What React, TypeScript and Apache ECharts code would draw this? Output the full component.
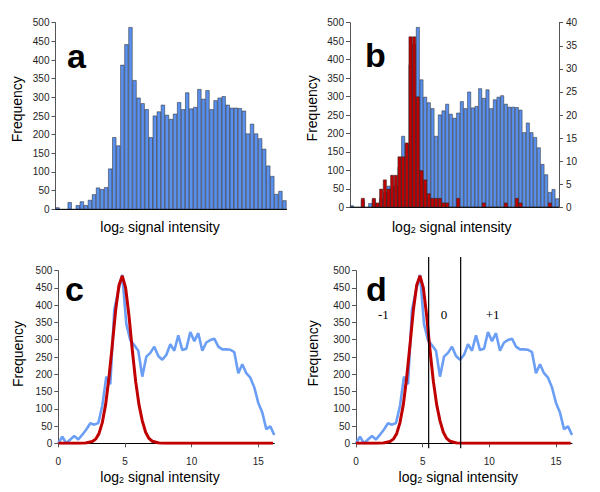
import React, { useEffect, useRef } from 'react';
import * as echarts from 'echarts';

// Histogram counts per 0.3 log2 bin (panels a and b, left axis)
const blueCounts = [5,0,0,19,0,11,21,11,25,40,58,54,59,109,193,171,387,442,488,346,299,284,268,193,251,262,280,253,242,256,287,268,313,270,274,322,296,319,268,292,299,303,280,272,272,271,264,203,229,203,190,162,117,89,41,49,24];
// Red histogram (panel b, right axis)
const redCounts = [0,0,0,2,0,0,2,1,4,6,4,7,7,11,11,14,37,37,24,8,6,3,2,2,2,1,1,0,0,2,0,0,0,0,0,0,1,0,0,0,0,0,1,0,0,2,1,0,0,0,0,0,0,0,1,0,0];
const binWidth = 0.3;
const curveStartBin = 2;
// Fitted red curve (panels c and d)
const redCurve = [[0,0],[1.5,0],[2.05,1],[2.55,5],[2.8,12],[3.05,28],[3.3,60],[3.55,112],[3.8,190],[4.05,285],[4.3,385],[4.55,458],[4.8,485],[5.05,450],[5.3,370],[5.55,270],[5.8,180],[6.05,112],[6.3,65],[6.55,32],[6.8,14],[7.05,6],[7.55,1],[8.05,0],[16.1,0]];
const cutoffs = [5.45, 7.85];
const regionLabels: [number, number, string][] = [[2.05, 372, '-1'], [6.6, 372, '0'], [10.25, 372, '+1']];
const xTickValues = [0, 5, 10, 15];

const BLUE = '#5a90ee';
const RED = '#c00000';
const LINE_BLUE = '#6b9ef5';
const SANS = 'Liberation Sans, Arial, sans-serif';

export default function App() {
  const ref = useRef<HTMLDivElement>(null);
  useEffect(() => {
    if (!ref.current) return;
    const chart = echarts.init(ref.current, null, { renderer: 'svg' });
    const tickLbl = (size: number) => ({ fontFamily: SANS, fontSize: size, color: '#1e1e1e' });
    const yLeft = (grid: number, size: number, margin: number) => ({
      type: 'value', gridIndex: grid, min: 0, max: 500, interval: 50,
      axisLine: { show: true, lineStyle: { color: '#555', width: 1 } },
      axisTick: { show: true, length: 4, lineStyle: { color: '#555' } },
      axisLabel: { ...tickLbl(size), margin },
      splitLine: { show: false },
    });
    const cats = blueCounts.map((_, i) => String(i));
    const blueLine = blueCounts.slice(curveStartBin).map((v, i) => [+(i * binWidth).toFixed(2), v]);
    const xVal = (grid: number) => ({
      type: 'value', gridIndex: grid, min: 0, max: 16.2,
      axisLine: { show: true, onZero: false, lineStyle: { color: '#000' } },
      axisTick: { show: true, length: 4, customValues: xTickValues, lineStyle: { color: '#555' } },
      axisLabel: { ...tickLbl(10), margin: 13, customValues: xTickValues },
      splitLine: { show: false },
    });
    const freqTitle = (x: number, y: number) => ({
      type: 'text', x, y, rotation: Math.PI / 2,
      style: { text: 'Frequency', fontFamily: SANS, fontSize: 14, fill: '#000', align: 'center', verticalAlign: 'middle' },
    });
    const xTitle = (x: number, y: number) => ({
      type: 'text', x, y,
      style: {
        text: '{a|log}{b|2}{a| signal intensity}', align: 'center', verticalAlign: 'middle',
        rich: {
          a: { fontFamily: SANS, fontSize: 14, fill: '#000', lineHeight: 18, verticalAlign: 'bottom' },
          b: { fontFamily: SANS, fontSize: 9, fill: '#000', lineHeight: 9, verticalAlign: 'bottom' },
        },
      },
    });
    const panelLetter = (t: string, x: number, y: number) => ({
      type: 'text', x, y,
      style: { text: t, fontFamily: SANS, fontWeight: 'bold', fontSize: 34, fill: '#000', align: 'left', verticalAlign: 'middle' },
    });
    const barStyle = (color: string) => ({ color, borderColor: '#222', borderWidth: 0.5 });

    const baseGraphic: any[] = [
      panelLetter('a', 67, 56),
      panelLetter('b', 365, 54.7),
      panelLetter('c', 65, 289),
      panelLetter('d', 366, 289),
      freqTitle(16.8, 109.2),
      freqTitle(312, 108.3),
      freqTitle(18.4, 354),
      freqTitle(313.4, 353.3),
      xTitle(160, 225),
      xTitle(451.7, 225),
      xTitle(160, 475),
      xTitle(458.3, 475),
    ];

    chart.setOption({
      animation: false,
      grid: [
        { left: 55.5, top: 22.7, width: 231, height: 186.6 },
        { left: 350, top: 22.7, width: 209, height: 184.6 },
        { left: 58.3, top: 270.7, width: 216, height: 172.6 },
        { left: 356, top: 270.7, width: 216, height: 172.6 },
      ],
      xAxis: [
        { type: 'category', gridIndex: 0, data: cats, boundaryGap: true,
          axisLine: { show: true, lineStyle: { color: '#000' } }, axisTick: { show: false }, axisLabel: { show: false } },
        { type: 'category', gridIndex: 1, data: cats, boundaryGap: true,
          axisLine: { show: true, lineStyle: { color: '#000' } }, axisTick: { show: false }, axisLabel: { show: false } },
        xVal(2),
        xVal(3),
      ],
      yAxis: [
        yLeft(0, 10, 6),
        yLeft(1, 10, 6),
        { type: 'value', gridIndex: 1, position: 'right', min: 0, max: 40, interval: 5,
          axisLine: { show: true, lineStyle: { color: '#555' } },
          axisTick: { show: true, length: 4, lineStyle: { color: '#555' } },
          axisLabel: { ...tickLbl(10), margin: 7 }, splitLine: { show: false } },
        yLeft(2, 10, 6),
        yLeft(3, 10, 6),
      ],
      series: [
        { type: 'bar', xAxisIndex: 0, yAxisIndex: 0, data: blueCounts, barCategoryGap: '0%',
          itemStyle: barStyle(BLUE) },
        { type: 'bar', xAxisIndex: 1, yAxisIndex: 1, data: blueCounts, barCategoryGap: '0%', barGap: '-100%',
          itemStyle: barStyle(BLUE) },
        { type: 'bar', xAxisIndex: 1, yAxisIndex: 2, data: redCounts, barCategoryGap: '0%', barGap: '-100%',
          itemStyle: barStyle(RED) },
        { type: 'line', xAxisIndex: 2, yAxisIndex: 3, data: blueLine, symbol: 'none',
          lineStyle: { color: LINE_BLUE, width: 2.6 } },
        { type: 'line', xAxisIndex: 2, yAxisIndex: 3, data: redCurve, symbol: 'none',
          lineStyle: { color: RED, width: 3 } },
        { type: 'line', xAxisIndex: 3, yAxisIndex: 4, data: blueLine, symbol: 'none',
          lineStyle: { color: LINE_BLUE, width: 2.6 } },
        { type: 'line', xAxisIndex: 3, yAxisIndex: 4, data: redCurve, symbol: 'none',
          lineStyle: { color: RED, width: 3 } },
        ...cutoffs.map((c) => ({
          type: 'line', xAxisIndex: 3, yAxisIndex: 4, data: [[c, -14], [c, 540]], symbol: 'none', clip: false,
          lineStyle: { color: '#000', width: 1.2 },
        })),
      ],
      graphic: baseGraphic,
    });

    // Region labels in panel d, placed through the panel's own axes
    const labelGraphic = regionLabels.map(([x, y, t]) => {
      const p = chart.convertToPixel({ xAxisIndex: 3, yAxisIndex: 4 } as any, [x, y]) as number[];
      return {
        type: 'text', x: p[0], y: p[1],
        style: { text: t, fontFamily: 'Liberation Serif, Times New Roman, serif', fontSize: 13, fill: '#000',
          align: 'center', verticalAlign: 'middle' },
      };
    });
    chart.setOption({ graphic: [...baseGraphic, ...labelGraphic] });
    return () => chart.dispose();
  }, []);
  return <div ref={ref} style={{ position: 'fixed', left: 0, top: 0, width: 600, height: 492, background: '#fff' }} />;
}
